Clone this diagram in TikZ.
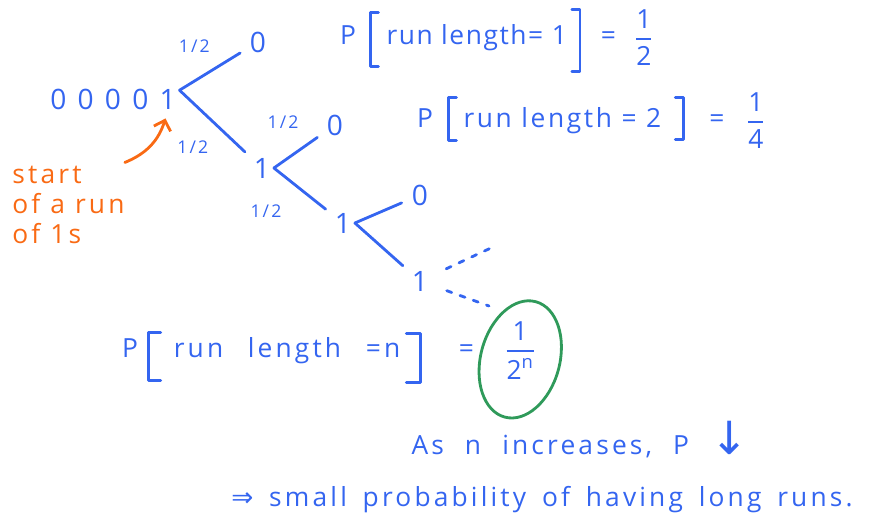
\documentclass[tikz,border=0pt]{standalone}
\usepackage{amsmath}
\usepackage{fontspec}
\setmainfont{Open Sans}[LetterSpace=12]
\newfontfamily\arrowfont{DejaVu Sans}
\usetikzlibrary{shapes.geometric, arrows.meta, positioning, calc}
\definecolor{cBlue}{RGB}{52,101,240}
\definecolor{cOrange}{RGB}{249,106,20}
\definecolor{cGreen}{RGB}{47,154,90}
\newcommand{\hfrac}[2]{$\genfrac{}{}{1.2pt}{0}{\text{#1}}{\text{#2}}$}
\newcommand{\gap}[1]{\spaceskip=#1\relax}
\tikzset{
	hand/.style   ={text=cBlue, inner sep=1pt},
	digit/.style  ={hand, font=\fontsize{16}{18}\selectfont, inner sep=2pt},
	half/.style   ={hand, font=\fontsize{10}{12}\selectfont},
	branch/.style ={draw=cBlue, line width=1.6pt, line cap=round, shorten >=4pt},
	brk/.style    ={draw=cBlue, line width=1.6pt, line cap=round, line join=round},
	note/.style   ={text=cOrange, align=left, inner sep=0pt},
	pointer/.style={draw=cOrange, line width=1.6pt, line cap=round, -{Straight Barb[length=5pt]}},
	ring/.style   ={ellipse, draw=cGreen, line width=1.6pt, inner sep=0pt},
}

\begin{document}
\begin{tikzpicture}[x=0.02cm, y=-0.02cm, font=\fontsize{15}{17}\selectfont, node distance=10pt]
	\useasboundingbox (0,0) rectangle (882,531);
	% tree of outcomes
	\node[digit] (n0) at (113,99) {\addfontfeature{LetterSpace=40}00001};
	\node[digit] (z1) at (258,42) {0};
	\node[digit] (o1) at (262,168) {1};
	\node[digit] (z2) at (335,125) {0};
	\node[digit] (o2) at (343,223) {1};
	\node[digit] (z3) at (420,195) {0};
	\node[digit] (o3) at (420,281) {1};
	\coordinate (u3) at (493,247);
	\coordinate (d3) at (489,306);
	\draw[branch] ([yshift=5pt]n0.east) -- node[half, pos=.5, above left=8pt and 0pt] {1/2} (z1);
	\draw[branch] ([yshift=5pt]n0.east) -- node[half, pos=.7, below left=0.5pt and 10pt] {1/2} (o1);
	\draw[branch] (o1.east) -- node[half, pos=.6, above left=9pt and 1pt] {1/2} (z2);
	\draw[branch] (o1.east) -- node[half, pos=.4, below left=9pt and 7pt] {1/2} (o2);
	\draw[branch] (o2.east) -- (z3);
	\draw[branch] (o2.east) -- (o3);
	\draw[branch, shorten >=0pt, shorten <=9pt, dash pattern=on 3pt off 5pt] (o3) -- (u3);
	\draw[branch, shorten >=0pt, shorten <=9pt, dash pattern=on 3pt off 5pt] (o3) -- (d3);
	% note on the first 1
	\node[note, anchor=north west] (st) at (12,166) {\gap{8pt}start\\of a run\\of 1s};
	\draw[pointer] ([yshift=2pt]st.north east) to[bend right=25] ([xshift=-8pt,yshift=-3pt]n0.south east);
	% run length 1
	\node[hand, anchor=base] (p1) at (348,44) {P};
	\node[hand, base right=15pt of p1] (r1) {\addfontfeature{LetterSpace=6}run length= 1};
	\draw[brk] (r1.west) ++(-6,-25) -- ++(-8,0) -- ++(0,54) -- ++(8,0);
	\draw[brk] (r1.east) ++(3,-28) -- ++(8,0) -- ++(0,62) -- ++(-8,0);
	\node[hand, base right=17pt of r1] (q1) {=};
	\node[hand, right=8pt of q1] (f1) {\hfrac{1}{2}};
	% run length 2
	\node[hand, anchor=base] (p2) at (425,127) {P};
	\node[hand, base right=15pt of p2] (r2) {\addfontfeature{LetterSpace=10}run length = 2};
	\draw[brk] (r2.west) ++(-5,-23) -- ++(-8,0) -- ++(0,43) -- ++(8,0);
	\draw[brk] (r2.east) ++(12,-23) -- ++(8,0) -- ++(0,42) -- ++(-8,0);
	\node[hand, base right=25pt of r2] (q2) {=};
	\node[hand, right=10pt of q2] (f2) {\hfrac{1}{4}};
	% run length n
	\node[hand, anchor=base] (p3) at (130,357) {P};
	\node[hand, base right=18pt of p3] (r3) {\gap{14pt}run length =n};
	\draw[brk] (r3.west) ++(-11,-18) -- ++(-12,0) -- ++(0,48) -- ++(12,0);
	\draw[brk] (r3.east) ++(4,-17) -- ++(14,0) -- ++(0,49) -- ++(-14,0);
	\node[hand, base right=31pt of r3] (q3) {=};
	\node[hand, right=15pt of q3] (f3) {$\genfrac{}{}{1.2pt}{0}{\text{1}}{\text{2}^{\text{n}}}$};
	\node[ring, minimum width=45pt, minimum height=68pt, rotate=-15] (rg) at ([yshift=-5pt]f3.center) {};
	% conclusion
	\node[hand] (inc) at (580,440) {\gap{12pt}As n increases, P {\arrowfont\fontsize{26}{26}\selectfont ↓}};
	\node[hand] (fin) at (542,500) {\gap{9pt}{\arrowfont ⇒} small probability of having long runs.};
\end{tikzpicture}
\end{document}
